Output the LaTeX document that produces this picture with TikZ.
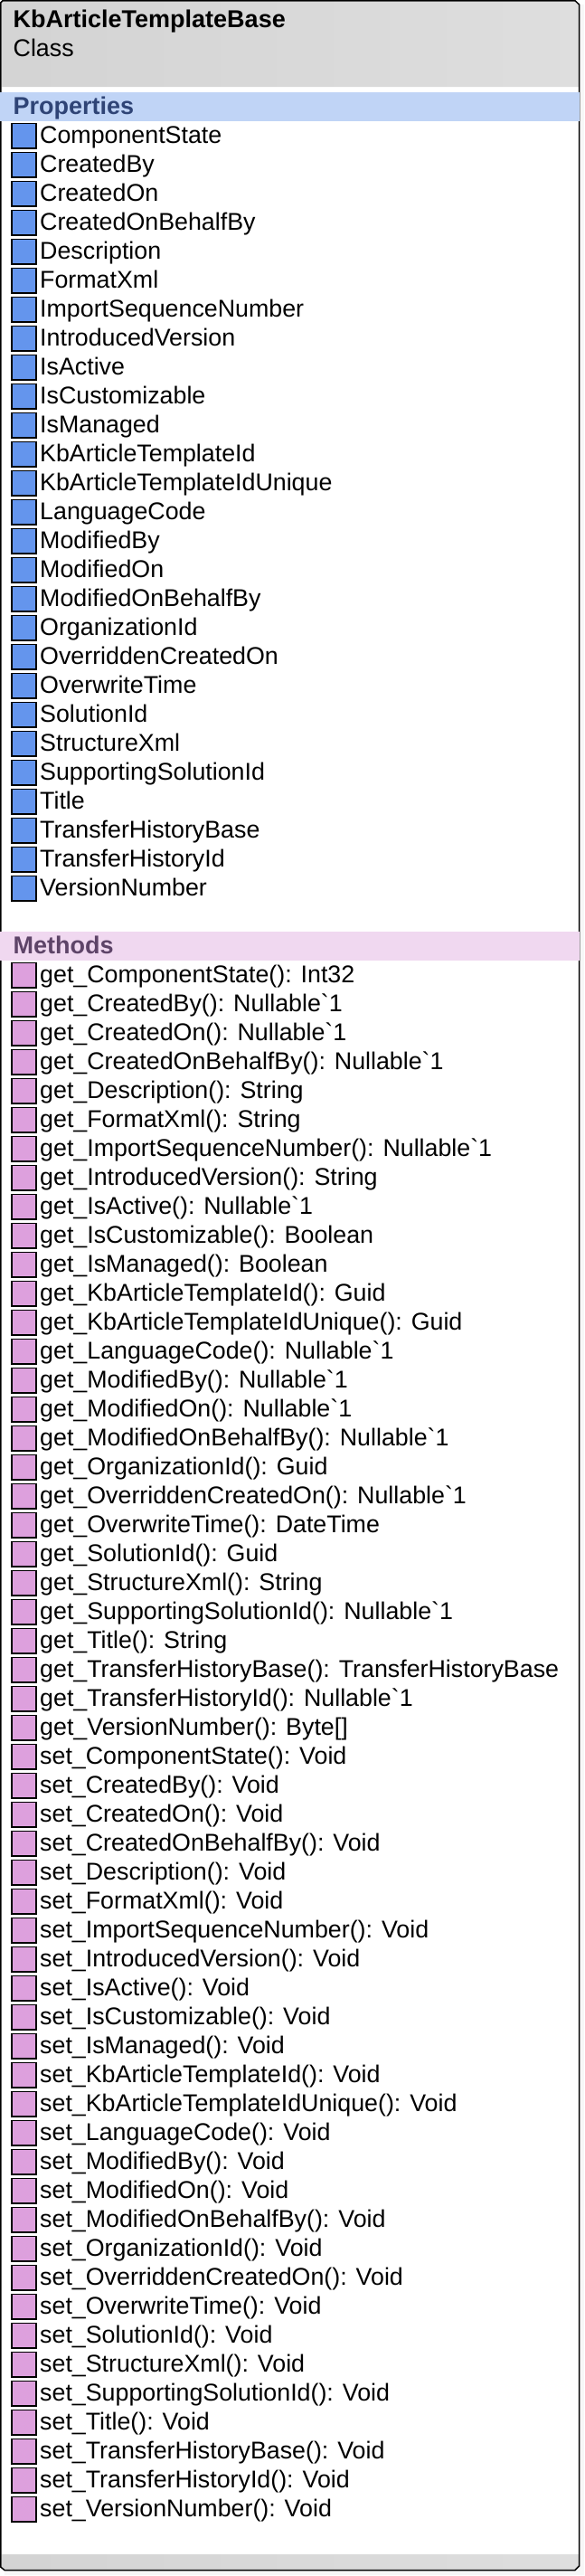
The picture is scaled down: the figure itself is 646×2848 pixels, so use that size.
\documentclass[tikz,border=0pt]{standalone}
\usepackage{fontspec}
\newfontfamily\listfont{Liberation Sans}
\definecolor{propicon}{HTML}{6495ED}
\definecolor{methicon}{HTML}{DDA0DD}
\definecolor{propband}{HTML}{C0D4F6}
\definecolor{methband}{HTML}{F0D8F0}
\definecolor{propink}{HTML}{2F4476}
\definecolor{methink}{HTML}{5E4468}
\tikzset{
	rowtext/.style={anchor=base west, inner sep=0pt, font=\listfont\fontsize{26.8}{30}\selectfont},
	headtext/.style={rowtext, font=\listfont\bfseries\fontsize{27}{30}\selectfont},
	rowbox/.style={draw=black, line width=1.5, minimum width=27, minimum height=27.5, inner sep=0pt},
	greyshade/.style={left color=black!17, right color=black!13, draw=none},
	band/.style={minimum width=641, minimum height=32, inner sep=0pt, anchor=north west},
}
\begin{document}
\begin{tikzpicture}[x=1pt,y=-1pt]
	\useasboundingbox (0,0) rectangle (646,2848);
	% shadow and frame
	\fill [black!3] (5,5) rectangle (645.5,2846.5);
	\fill [white] (1,1) rectangle (640.5,2841);
	\shade [greyshade] (3,2) -- (636,2) -- (640,6) -- (640,96) -- (2,96) -- (2,3) -- cycle;
	\shade [greyshade] (2,2824) -- (640,2824) -- (640,2837) -- (636,2841) -- (5,2841) -- (2,2838) -- cycle;
	\draw [line width=1.5] (3,0.75) -- (636,0.75) -- (640.5,5) -- (640.5,2837) -- (636,2841.5) -- (5,2841.5) -- (0.75,2838) -- (0.75,3) -- cycle;
	\node [headtext] (classname) at (14.5,30.5) {KbArticleTemplateBase};
	\node [rowtext] (classkind) at (14.5,62) {Class};
	% properties
	\node [band, fill=propband] (propband) at (0,102) {};
	\node [headtext, text=propink] (proptitle) at (14.5,126) {Properties};
	\foreach \name [count=\i from 0] in {ComponentState,CreatedBy,CreatedOn,CreatedOnBehalfBy,Description,FormatXml,ImportSequenceNumber,IntroducedVersion,IsActive,IsCustomizable,IsManaged,KbArticleTemplateId,KbArticleTemplateIdUnique,LanguageCode,ModifiedBy,ModifiedOn,ModifiedOnBehalfBy,OrganizationId,OverriddenCreatedOn,OverwriteTime,SolutionId,StructureXml,SupportingSolutionId,Title,TransferHistoryBase,TransferHistoryId,VersionNumber}{
		\node [rowbox, fill=propicon] (propbox\i) at (26.5,150.25+32*\i) {};
		\node [rowtext] (proplabel\i) at (44,158.5+32*\i) {\name};
	}
	% methods
	\node [band, fill=methband] (methband) at (0,1030) {};
	\node [headtext, text=methink] (methtitle) at (14.5,1054) {Methods};
	\foreach \name [count=\i from 0] in {get\_ComponentState(): Int32,get\_CreatedBy(): Nullable`1,get\_CreatedOn(): Nullable`1,get\_CreatedOnBehalfBy(): Nullable`1,get\_Description(): String,get\_FormatXml(): String,get\_ImportSequenceNumber(): Nullable`1,get\_IntroducedVersion(): String,get\_IsActive(): Nullable`1,get\_IsCustomizable(): Boolean,get\_IsManaged(): Boolean,get\_KbArticleTemplateId(): Guid,get\_KbArticleTemplateIdUnique(): Guid,get\_LanguageCode(): Nullable`1,get\_ModifiedBy(): Nullable`1,get\_ModifiedOn(): Nullable`1,get\_ModifiedOnBehalfBy(): Nullable`1,get\_OrganizationId(): Guid,get\_OverriddenCreatedOn(): Nullable`1,get\_OverwriteTime(): DateTime,get\_SolutionId(): Guid,get\_StructureXml(): String,get\_SupportingSolutionId(): Nullable`1,get\_Title(): String,get\_TransferHistoryBase(): TransferHistoryBase,get\_TransferHistoryId(): Nullable`1,get\_VersionNumber(): Byte[],set\_ComponentState(): Void,set\_CreatedBy(): Void,set\_CreatedOn(): Void,set\_CreatedOnBehalfBy(): Void,set\_Description(): Void,set\_FormatXml(): Void,set\_ImportSequenceNumber(): Void,set\_IntroducedVersion(): Void,set\_IsActive(): Void,set\_IsCustomizable(): Void,set\_IsManaged(): Void,set\_KbArticleTemplateId(): Void,set\_KbArticleTemplateIdUnique(): Void,set\_LanguageCode(): Void,set\_ModifiedBy(): Void,set\_ModifiedOn(): Void,set\_ModifiedOnBehalfBy(): Void,set\_OrganizationId(): Void,set\_OverriddenCreatedOn(): Void,set\_OverwriteTime(): Void,set\_SolutionId(): Void,set\_StructureXml(): Void,set\_SupportingSolutionId(): Void,set\_Title(): Void,set\_TransferHistoryBase(): Void,set\_TransferHistoryId(): Void,set\_VersionNumber(): Void}{
		\node [rowbox, fill=methicon] (methbox\i) at (26.5,1078.25+32*\i) {};
		\node [rowtext] (methlabel\i) at (44,1086.5+32*\i) {\name};
	}
\end{tikzpicture}
\end{document}
